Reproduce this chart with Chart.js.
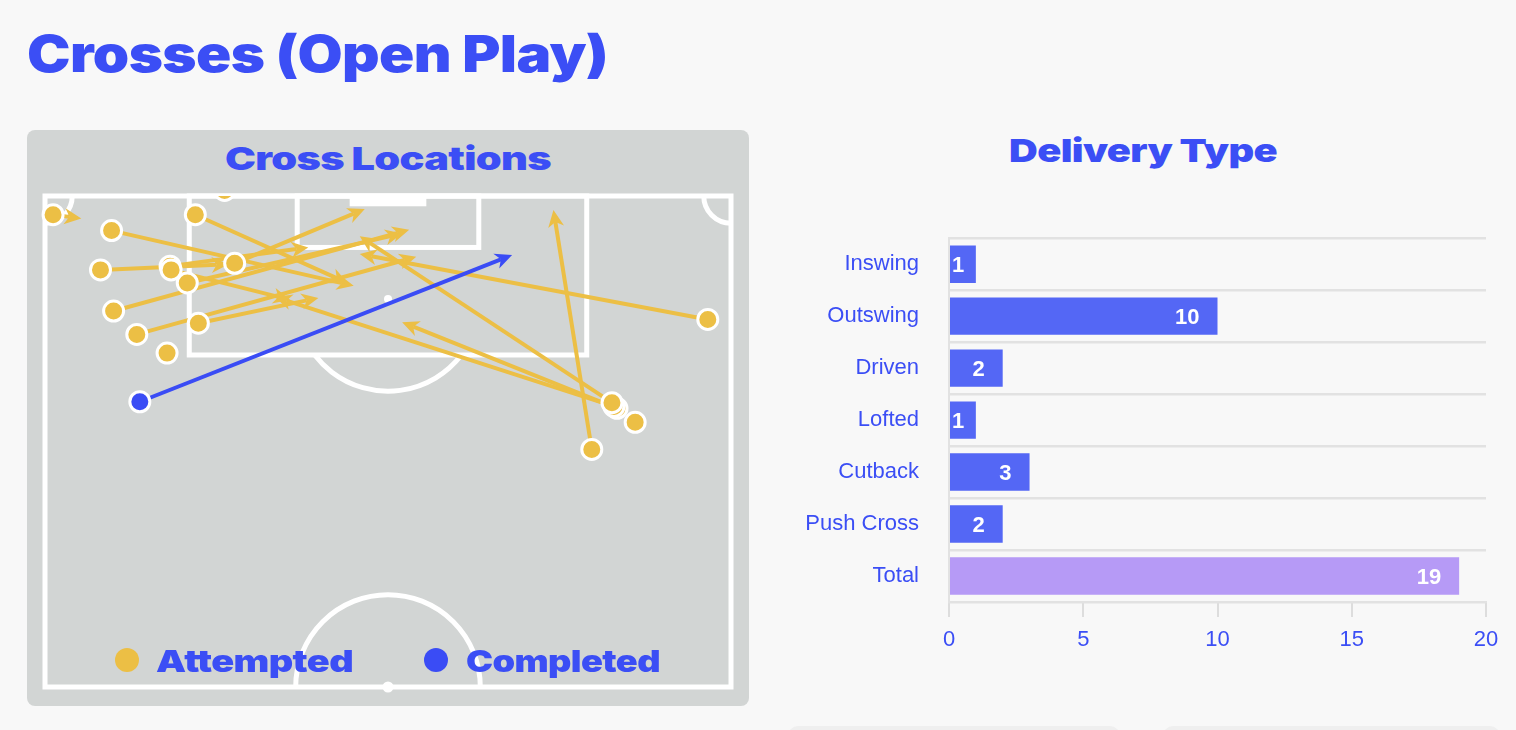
<!DOCTYPE html>
<html>
<head>
<meta charset="utf-8">
<script src="https://cdn.jsdelivr.net/npm/chart.js@4.4.1/dist/chart.umd.min.js"></script>
<style>
  body { margin: 0; background: #f8f8f8; width: 1516px; height: 730px; overflow: hidden; position: relative; }
  .wide { position: absolute; font-family: Inter, sans-serif; font-weight: 900; color: #3b4ef5;
          white-space: nowrap; line-height: 1; letter-spacing: -0.5px; transform-origin: left top; }
  #panel { position: absolute; left: 27px; top: 130px; width: 722px; height: 576px; background: #d2d5d4; border-radius: 8px; }
  #pitchWrap { position: absolute; left: 27px; top: 176px; width: 722px; height: 530px; }
  #barWrap { position: absolute; left: 780px; top: 195px; width: 730px; height: 475px; }
  .dot { position: absolute; width: 24px; height: 24px; border-radius: 50%; }
  .card { position: absolute; top: 726px; height: 20px; background: #efefef; border-radius: 10px; }
</style>
</head>
<body>
<div class="wide" id="title" style="left:27px; top:28px; font-size:51px" data-w="581">Crosses (Open Play)</div>

<div id="panel"></div>
<div class="wide" style="left:225px; top:143px; font-size:32px" data-w="326">Cross Locations</div>
<div id="pitchWrap"><canvas id="pitch"></canvas></div>
<div class="dot" style="left:115px; top:648px; background:#ecbf45"></div>
<div class="wide" style="left:156px; top:646px; font-size:30px" data-w="197">Attempted</div>
<div class="dot" style="left:424px; top:648px; background:#3a4cf5"></div>
<div class="wide" style="left:466px; top:646px; font-size:30px" data-w="194">Completed</div>

<div class="wide" style="left:1009px; top:135px; font-size:32px" data-w="268">Delivery Type</div>
<div id="barWrap"><canvas id="bars"></canvas></div>

<div class="card" style="left:788px; width:332px"></div>
<div class="card" style="left:1163px; width:337px"></div>

<script>
// cross start / end locations in metres (x across the pitch, y from the goal line)
const attStartX = [0.8, 6.6, 14.9, 17.8, 5.5, 12.4, 12.5, 14.1, 18.8, 6.8, 9.1, 15.2, 12.1, 65.7, 56.7, 56.4, 56.2, 58.5, 54.2];
const attStartY = [2.0, 3.7, 2.0, -0.6, 7.9, 7.5, 7.9, 9.3, 7.2, 12.3, 14.8, 13.6, 16.8, 13.2, 22.7, 22.5, 22.1, 24.2, 27.1];
const attEndX   = [3.6, 30.6, 30.0, null, 18.2, 26.1, 24.3, 35.4, 31.7, 36.1, 36.8, 27.1, null, 31.2, 35.4, 22.8, 31.2, null, 50.4];
const attEndY   = [2.4, 9.6, 9.3, null, 7.3, 5.5, 11.1, 4.0, 1.4, 3.6, 6.5, 10.9, null, 6.2, 13.5, 10.8, 4.3, null, 1.5];

const compStartX = [9.4];
const compStartY = [22.0];
const compEndX   = [46.3];
const compEndY   = [6.3];

const deliveryTypes  = ['Inswing', 'Outswing', 'Driven', 'Lofted', 'Cutback', 'Push Cross', 'Total'];
const deliveryCounts = [1, 10, 2, 1, 3, 2, 19];

const BLUE = '#3b4ef5';
const YELLOW = '#ecbf45';

// pitch geometry (metres)
const PITCH_W = 68, HALF_LEN = 52.5, MID = 34;
const BOX_HALF = 19.7, BOX_DEPTH = 17.0;
const SIX_HALF = 9.0, SIX_DEPTH = 5.5;
const GOAL_HALF = 3.8, GOAL_DEPTH = 1.1;
const SPOT = 11.0, CIRCLE_R = 9.15, CORNER_R = 2.7;

const pts = (xs, ys) => xs.map((x, i) => ({ x, y: ys[i] }));

function drawArrow(ctx, x1, y1, x2, y2, color) {
    const ang = Math.atan2(y2 - y1, x2 - x1);
    const L = 17, W = 8, notch = 5;
    ctx.strokeStyle = color;
    ctx.fillStyle = color;
    ctx.lineWidth = 4;
    ctx.beginPath();
    ctx.moveTo(x1, y1);
    ctx.lineTo(x2 - Math.cos(ang) * (L - notch), y2 - Math.sin(ang) * (L - notch));
    ctx.stroke();
    ctx.save();
    ctx.translate(x2, y2);
    ctx.rotate(ang);
    ctx.beginPath();
    ctx.moveTo(0, 0);
    ctx.lineTo(-L, -W);
    ctx.lineTo(-L + notch, 0);
    ctx.lineTo(-L, W);
    ctx.closePath();
    ctx.fill();
    ctx.restore();
}

const pitchPlugin = {
    id: 'pitch',
    beforeDatasetsDraw(chart) {
        const { ctx, scales: { x, y } } = chart;
        const X = v => x.getPixelForValue(v);
        const Y = v => y.getPixelForValue(v);
        const rect = (x0, y0, x1, y1) => ctx.strokeRect(X(x0), Y(y0), X(x1) - X(x0), Y(y1) - Y(y0));
        ctx.save();
        ctx.strokeStyle = '#fff';
        ctx.fillStyle = '#fff';
        ctx.lineWidth = 5;

        rect(0, 0, PITCH_W, HALF_LEN);
        rect(MID - BOX_HALF, 0, MID + BOX_HALF, BOX_DEPTH);
        rect(MID - SIX_HALF, 0, MID + SIX_HALF, SIX_DEPTH);
        ctx.fillRect(X(MID - GOAL_HALF), Y(0), X(MID + GOAL_HALF) - X(MID - GOAL_HALF), Y(GOAL_DEPTH) - Y(0));

        const r = X(CIRCLE_R) - X(0);
        // penalty spot + arc outside the box
        const cx = X(MID), cy = Y(SPOT);
        ctx.beginPath(); ctx.arc(cx, cy, 4, 0, Math.PI * 2); ctx.fill();
        const a = Math.asin((Y(BOX_DEPTH) - cy) / r);
        ctx.beginPath(); ctx.arc(cx, cy, r, a, Math.PI - a); ctx.stroke();
        // centre circle + spot
        ctx.beginPath(); ctx.arc(cx, Y(HALF_LEN), r, Math.PI, Math.PI * 2); ctx.stroke();
        ctx.beginPath(); ctx.arc(cx, Y(HALF_LEN), 5.5, 0, Math.PI * 2); ctx.fill();
        // corners
        const rc = X(CORNER_R) - X(0);
        ctx.beginPath(); ctx.arc(X(0), Y(0), rc, 0, Math.PI / 2); ctx.stroke();
        ctx.beginPath(); ctx.arc(X(PITCH_W), Y(0), rc, Math.PI / 2, Math.PI); ctx.stroke();

        // cross paths
        attStartX.forEach((sx, i) => {
            if (attEndX[i] == null) return;
            drawArrow(ctx, X(sx), Y(attStartY[i]), X(attEndX[i]), Y(attEndY[i]), YELLOW);
        });
        compStartX.forEach((sx, i) => {
            drawArrow(ctx, X(sx), Y(compStartY[i]), X(compEndX[i]), Y(compEndY[i]), '#3a4cf5');
        });
        ctx.restore();
    }
};

new Chart(document.getElementById('pitch'), {
    type: 'scatter',
    data: {
        datasets: [
            { label: 'Attempted', data: pts(attStartX, attStartY), backgroundColor: YELLOW },
            { label: 'Completed', data: pts(compStartX, compStartY), backgroundColor: '#3a4cf5' }
        ]
    },
    options: {
        responsive: true,
        maintainAspectRatio: false,
        animation: false,
        layout: { padding: { left: 18, right: 18, top: 20, bottom: 19 } },
        elements: { point: { radius: 10, borderWidth: 3, borderColor: '#fff', hoverRadius: 10 } },
        datasets: { scatter: { clip: { left: 5, top: 0, right: 5, bottom: 5 } } },
        scales: {
            x: { type: 'linear', min: 0, max: PITCH_W, display: false },
            y: { type: 'linear', min: 0, max: HALF_LEN, reverse: true, display: false }
        },
        plugins: { legend: { display: false }, tooltip: { enabled: false } }
    },
    plugins: [pitchPlugin]
});

const barLabels = {
    id: 'barLabels',
    afterDatasetsDraw(chart) {
        const { ctx } = chart;
        ctx.save();
        ctx.font = 'bold 22px "Liberation Sans", Arial, sans-serif';
        ctx.fillStyle = '#fff';
        ctx.textAlign = 'right';
        ctx.textBaseline = 'middle';
        chart.getDatasetMeta(0).data.forEach((bar, i) => {
            const txt = String(deliveryCounts[i]);
            const w = ctx.measureText(txt).width;
            const xr = Math.max(bar.base + 2 + w, bar.x - 18);
            ctx.fillText(txt, xr, bar.y + 2);
        });
        ctx.restore();
    }
};

new Chart(document.getElementById('bars'), {
    type: 'bar',
    data: {
        labels: deliveryTypes,
        datasets: [{
            data: deliveryCounts,
            backgroundColor: deliveryTypes.map(t => t === 'Total' ? '#b69af6' : '#5467f5')
        }]
    },
    options: {
        indexAxis: 'y',
        responsive: true,
        maintainAspectRatio: false,
        animation: false,
        layout: { padding: { top: 20, right: 24, left: 0, bottom: 0 } },
        scales: {
            x: {
                min: 0, max: 20,
                ticks: { stepSize: 5, color: BLUE, padding: 10, font: { family: '"Liberation Sans", Arial', size: 22 } },
                grid: { drawOnChartArea: false, drawTicks: true, tickLength: 15, color: '#dddddd', lineWidth: 2 },
                border: { color: '#e2e2e2', width: 2 },
                afterFit: s => { s.height = 68; }
            },
            y: {
                ticks: { color: BLUE, padding: 30, font: { family: '"Liberation Sans", Arial', size: 22 } },
                grid: { offset: true, drawTicks: false, color: '#e2e2e2', lineWidth: 2.5 },
                border: { color: '#e2e2e2', width: 2 },
                afterFit: s => { s.width = 169; }
            }
        },
        plugins: { legend: { display: false }, tooltip: { enabled: false } }
    },
    plugins: [barLabels]
});

// stretch the display headings to the wide face of the original
document.querySelectorAll('.wide').forEach(el => {
    const w = el.getBoundingClientRect().width;
    el.style.transform = 'scaleX(' + (+el.dataset.w / w) + ')';
});
</script>
</body>
</html>
